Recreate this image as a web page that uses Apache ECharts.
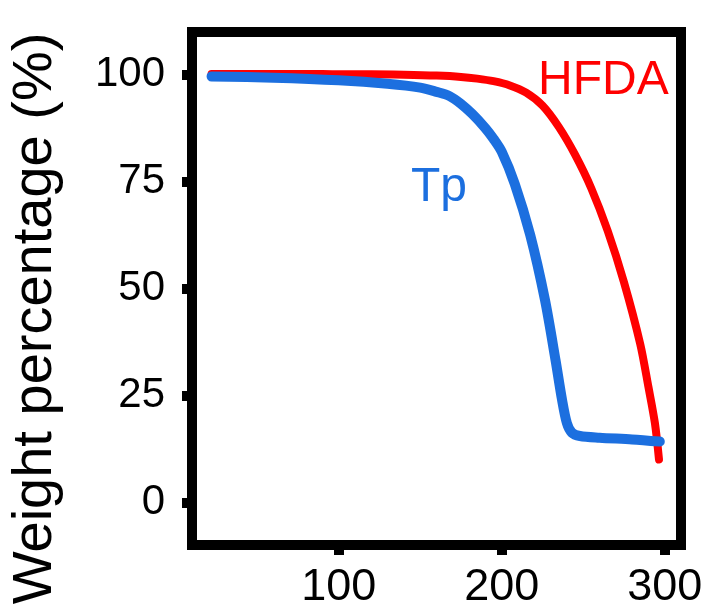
<!DOCTYPE html>
<html>
<head>
<meta charset="utf-8">
<script src="https://cdn.jsdelivr.net/npm/echarts@6/dist/echarts.min.js"></script>
<style>
html,body{margin:0;padding:0;background:#fff;}
#c{width:708px;height:613px;}
</style>
</head>
<body>
<div id="c"></div>
<script>
// Temperature ticks and weight ticks
const xTicks = [100, 200, 300];
const yTicks = [0, 25, 50, 75, 100];

// HFDA curve: [temperature, weight %]
const hfdaX = [22, 40, 60, 80, 100, 120, 140, 160, 175, 185, 195, 205, 215, 225, 235, 245, 255, 265, 275, 285, 290, 294, 296.5];
const hfdaY = [100.2, 100.2, 100.2, 100.2, 100.1, 100.1, 100.0, 99.8, 99.5, 99.1, 98.5, 97.5, 95.8, 92.8, 87.8, 81.3, 73.4, 63.5, 51.5, 37.0, 27.0, 18.5, 10.0];

// Tp curve
const tpX = [22, 60, 100, 130, 150, 160, 168, 175, 182, 190, 195, 200, 208, 217.5, 226.5, 233, 237, 240, 243, 248, 260, 280, 297];
const tpY = [99.6, 99.3, 98.7, 97.9, 97.0, 96.0, 95.0, 93.2, 90.8, 87.5, 85.0, 82.0, 74.5, 62.5, 47.4, 33.3, 24.0, 18.5, 16.3, 15.5, 15.1, 14.7, 14.2];

const seriesNames = ['HFDA', 'Tp'];
const yTitle = 'Weight percentage (%)';

const pair = (xs, ys) => xs.map((x, i) => [x, ys[i]]);
const FONT = 'Liberation Sans, Arial, sans-serif';
const RED = '#ff0000';
const BLUE = '#1c6fdf';

const chart = echarts.init(document.getElementById('c'), null, {renderer: 'canvas'});
chart.setOption({
  animation: false,
  backgroundColor: '#fff',
  grid: {
    left: 192, right: 27, top: 32, bottom: 68,
    show: true, borderColor: '#000', borderWidth: 10, backgroundColor: 'transparent'
  },
  xAxis: {
    type: 'value', min: 10, max: 310,
    axisLine: {show: false, onZero: false},
    splitLine: {show: false},
    axisTick: {show: true, inside: false, length: 10, customValues: xTicks, lineStyle: {color: '#000', width: 10}},
    axisLabel: {customValues: xTicks, margin: 20, color: '#000', fontSize: 45, fontFamily: FONT}
  },
  yAxis: {
    type: 'value', min: -10, max: 110,
    name: yTitle, nameLocation: 'middle', nameGap: 128,
    nameTextStyle: {fontSize: 56, color: '#000', fontFamily: FONT, padding: [0, 60, 0, 0]},
    axisLine: {show: false, onZero: false},
    splitLine: {show: false},
    axisTick: {show: true, inside: false, length: 10, customValues: yTicks, lineStyle: {color: '#000', width: 10}},
    axisLabel: {customValues: yTicks, margin: 27, color: '#000', fontSize: 42, fontFamily: FONT}
  },
  series: [
    {
      name: seriesNames[0], type: 'line', data: pair(hfdaX, hfdaY),
      showSymbol: false, symbol: 'none', smooth: 0.3,
      lineStyle: {color: RED, width: 8, cap: 'round', join: 'round'}, z: 2
    },
    {
      name: seriesNames[1], type: 'line', data: pair(tpX, tpY),
      showSymbol: false, symbol: 'none', smooth: 0.3,
      lineStyle: {color: BLUE, width: 10, cap: 'round', join: 'round'}, z: 3
    }
  ],
  graphic: [
    {type: 'text', left: 538, top: 57, style: {text: seriesNames[0], fill: RED, font: '48px ' + FONT}},
    {type: 'text', left: 411, top: 164, style: {text: seriesNames[1], fill: BLUE, font: '48px ' + FONT}}
  ]
});
</script>
</body>
</html>
